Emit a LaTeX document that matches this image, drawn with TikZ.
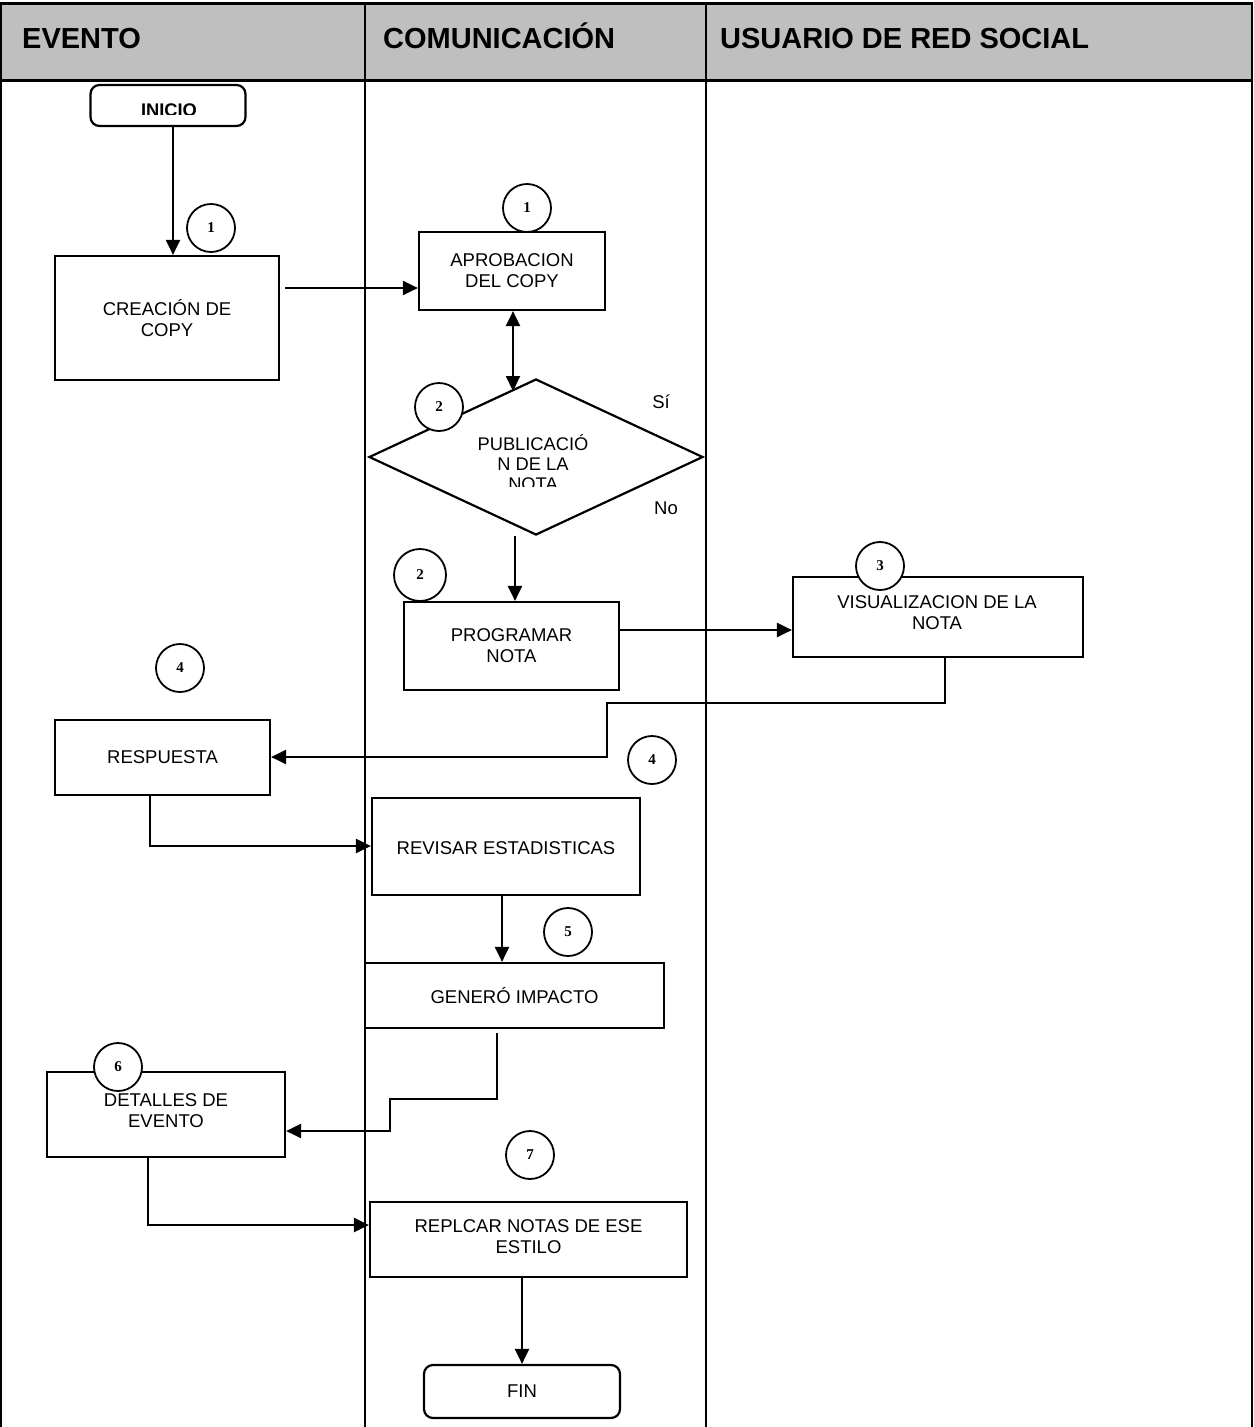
\documentclass[tikz,border=0pt]{standalone}
\usepackage{fontspec}
\setmainfont{Liberation Sans}
\newfontfamily\numfont{Liberation Serif}
\usetikzlibrary{shapes.geometric,arrows.meta}
\begin{document}
\begin{tikzpicture}[x=1pt,y=-1pt,
 box/.style={draw,line width=2.2pt,fill=white,inner sep=0pt,align=center,font=\fontsize{18.5}{21}\selectfont},
 term/.style={box,rounded corners=9pt},
 num/.style={draw,circle,line width=1.8pt,fill=white,minimum size=48pt,inner sep=0pt,font=\numfont\bfseries\fontsize{15}{15}\selectfont},
 conn/.style={line width=2.2pt},
 arr/.style={conn,-{Triangle[length=15pt,width=14pt]}},
 dbl/.style={conn,{Triangle[length=15pt,width=14pt]}-{Triangle[length=15pt,width=14pt]}},
 hdr/.style={anchor=base west,inner sep=0pt,font=\bfseries\fontsize{29}{32}\selectfont},
 lbl/.style={inner sep=0pt,align=center,font=\fontsize{18.5}{21}\selectfont}]

\useasboundingbox (0,0) rectangle (1253,1427);
\fill[white] (0,0) rectangle (1253,1427);
\fill[black!25] (0,3) rectangle (1253,80);
\draw[line width=1.5pt] (1,3) -- (1,1427) (365,3) -- (365,1427) (706,3) -- (706,1427) (1252,3) -- (1252,1427);
\draw[line width=3pt] (0,3) -- (1253,3) (0,80) -- (1253,80);

\node[hdr] (h1) at (22,48) {EVENTO};
\node[hdr] (h2) at (383,48) {COMUNICACIÓN};
\node[hdr] (h3) at (720,48) {USUARIO DE RED SOCIAL};

% nodes
\node[term,minimum width=155pt,minimum height=41pt] (ini) at (168,105.5) {};
\begin{scope}
\clip (95,90) rectangle (240,114);
\node[lbl,font=\bfseries\fontsize{18.3}{18.3}\selectfont] (iniT) at (169,110.6) {INICIO};
\end{scope}
\node[box,minimum width=224pt,minimum height=124pt] (crea) at (167,318) {CREACIÓN DE\\COPY};
\node[box,minimum width=186pt,minimum height=78pt] (apro) at (512,271) {APROBACION\\DEL COPY};
\node[draw,diamond,line width=2.2pt,fill=white,inner sep=0pt,aspect=2.14,minimum width=334pt,minimum height=156pt] (dia) at (536,457) {};
\begin{scope}
\clip (380,420) rectangle (690,486);
\node[lbl,font=\fontsize{18.3}{20}\selectfont] (dtext) at (533,463) {PUBLICACIÓ\\N DE LA\\NOTA};
\end{scope}
\node[lbl] (si) at (661,402) {Sí};
\node[lbl] (no) at (666,508) {No};
\node[box,minimum width=215pt,minimum height=88pt] (prog) at (511.5,646) {PROGRAMAR\\NOTA};
\node[box,minimum width=290pt,minimum height=80pt] (vis) at (938,617) {};
\node[lbl] (visT) at (937,612.5) {VISUALIZACION DE LA\\NOTA};
\node[box,minimum width=215pt,minimum height=75pt] (resp) at (162.5,757.5) {RESPUESTA};
\node[box,minimum width=268pt,minimum height=97pt] (rev) at (506,846.5) {};
\node[lbl] (revT) at (506,848) {REVISAR ESTADISTICAS};
\node[box,minimum width=299pt,minimum height=65pt] (gen) at (514.5,995.5) {GENERÓ IMPACTO};
\node[box,minimum width=238pt,minimum height=85pt] (det) at (166,1114.5) {};
\node[lbl] (detT) at (166,1110.5) {DETALLES DE\\EVENTO};
\node[box,minimum width=317pt,minimum height=75pt] (repl) at (528.5,1239.5) {};
\node[lbl] (replT) at (528.5,1236.5) {REPLCAR NOTAS DE ESE\\ESTILO};
\node[term,minimum width=196pt,minimum height=53pt] (fin) at (522,1391.5) {FIN};

% connectors
\coordinate (dtop) at (513,391);
\draw[arr] (ini.south -| 173,0) -- (crea.north -| 173,0);
\draw[arr] ([xshift=5pt]crea.east |- 0,288) -- (apro.west |- 0,288);
\draw[dbl] (apro.south -| 513,0) -- (dtop);
\draw[arr] (dia.south -| 515,0) -- (prog.north -| 515,0);
\draw[arr] (prog.east |- 0,630) -- (vis.west |- 0,630);
\draw[arr] (vis.south -| 945,0) -- (945,703) -- (607,703) -- (607,757) -- (resp.east |- 0,757);
\draw[arr] (resp.south -| 150,0) |- (rev.west |- 0,846);
\draw[arr] (rev.south -| 502,0) -- (gen.north -| 502,0);
\draw[arr] ([yshift=-4pt]gen.south -| 497,0) -- (497,1099) -- (390,1099) -- (390,1131) -- (det.east |- 0,1131);
\draw[arr] (det.south -| 148,0) |- (repl.west |- 0,1225);
\draw[arr] (repl.south -| 522,0) -- (fin.north -| 522,0);

% step numbers
\node[num] (n1a) at (211,228) {1};
\node[num] (n1b) at (527,208) {1};
\node[num] (n2a) at (439,407) {2};
\node[num,minimum height=52pt] (n2b) at (420,575) {2};
\node[num] (n3) at (880,566) {3};
\node[num] (n4a) at (180,668) {4};
\node[num] (n4b) at (652,760) {4};
\node[num] (n5) at (568,932) {5};
\node[num] (n6) at (118,1067) {6};
\node[num] (n7) at (530,1155) {7};
\end{tikzpicture}
\end{document}
